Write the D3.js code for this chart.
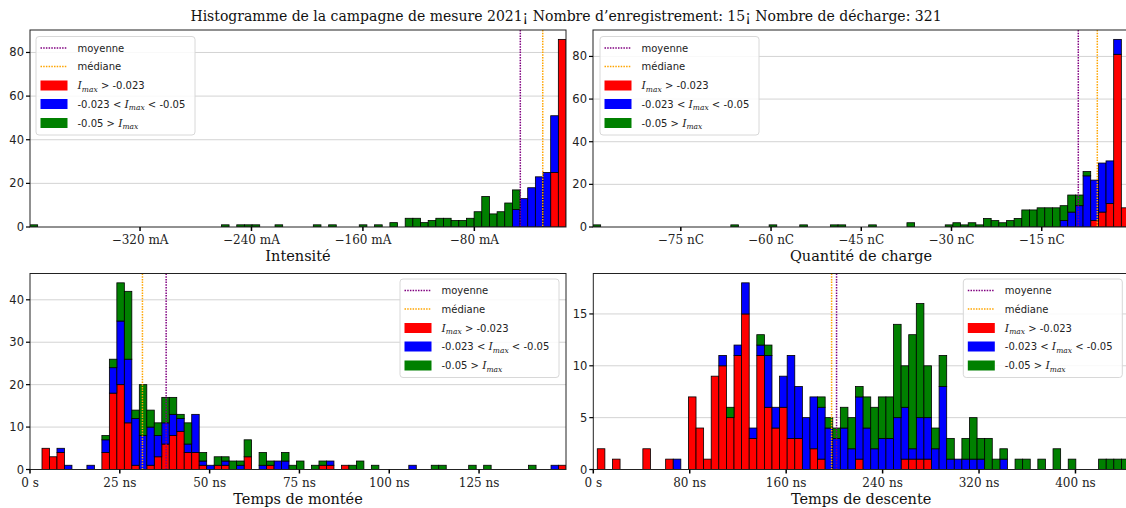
<!DOCTYPE html>
<html><head><meta charset="utf-8">
<script src="https://cdn.jsdelivr.net/npm/d3@7"></script>
<style>body{margin:0;background:#fff}</style>
</head><body><svg id="c" width="1126" height="508"></svg>
<script>
const titleText = "Histogramme de la campagne de mesure 2021¡ Nombre d’enregistrement: 15¡ Nombre de décharge: 321";
const legendLabels = ["moyenne", "médiane", "> -0.023", "-0.023 < |< -0.05", "-0.05 > |"];

// ---- Intensité (mA) ----
const intensiteDomain = [-399, -14.2];
const intensiteBins = [-399, -14.2];
const intensiteTicks = [-320, -240, -160, -80];
const intensiteMean = -47.0, intensiteMedian = -30.9;
const intensiteRed = [0,0,0,0,0,0,0,0,0,0, 0,0,0,0,0,0,0,0,0,0, 0,0,0,0,0,0,0,0,0,0, 0,0,0,0,0,0,0,0,0,0, 0,0,0,0,0,0,0,0,0,0, 0,0,0,0,0,0,0,0,0,0, 0,0,0,0,0,0,0,0,25,86];
const intensiteBlue = [0,0,0,0,0,0,0,0,0,0, 0,0,0,0,0,0,0,0,0,0, 0,0,0,0,0,0,0,0,0,0, 0,0,0,0,0,0,0,0,0,0, 0,0,0,0,0,0,0,0,0,0, 0,0,0,0,0,0,0,0,0,0, 0,0,0,8,13,18,23,25,26,0];
const intensiteGreen = [1,0,0,0,0,0,0,0,0,0, 0,0,0,0,0,0,0,0,0,0, 0,0,0,0,0,1,0,1,1,1, 0,0,1,0,0,0,0,1,0,1, 0,0,0,1,0,1,0,2,0,4, 4,2,3,4,4,3,3,4,7,14, 6,7,11,9,0,0,0,0,0,0];

// ---- Quantité de charge (nC) ----
const chargeDomain = [-89.6, -0.49];
const chargeBins = [-89.6, -0.49];
const chargeTicks = [-75, -60, -45, -30, -15];
const chargeMean = -8.92, chargeMedian = -5.76;
const chargeRed = [0,0,0,0,0,0,0,0,0,0, 0,0,0,0,0,0,0,0,0,0, 0,0,0,0,0,0,0,0,0,0, 0,0,0,0,0,0,0,0,0,0, 0,0,0,0,0,0,0,0,0,0, 0,0,0,0,0,0,0,0,0,0, 0,0,0,0,0,3,7,11,81,9];
const chargeBlue = [0,0,0,0,0,0,0,0,0,0, 0,0,0,0,0,0,0,0,0,0, 0,0,0,0,0,0,0,0,0,0, 0,0,0,0,0,0,0,0,0,0, 0,0,0,0,0,0,0,0,0,0, 0,0,0,0,0,0,0,0,0,0, 0,3,7,10,24,19,23,20,7,0];
const chargeGreen = [1,0,0,0,0,0,0,0,0,0, 0,0,0,0,0,0,0,0,1,0, 0,0,0,1,0,0,0,1,0,0, 0,1,1,0,0,0,1,0,0,0, 0,2,0,0,0,0,1,2,1,2, 1,4,3,2,3,4,8,8,9,9, 9,7,8,5,2,0,0,0,0,0];

// ---- Temps de montée (ns) ----
const monteeDomain = [0, 149.2];
const monteeBins = [3.34, 149.2];
const monteeTicks = [0, 25, 50, 75, 100, 125];
const monteeMean = 37.9, monteeMedian = 31.3;
const monteeRed = [5,3,4,0,0,0,0,0,4,18, 20,11,1,0,1,3,6,8,9,4, 4,1,0,1,1,0,0,3,0,0, 1,0,0,0,0,0,0,1,1,0, 1,0,0,0,0,0,0,0,0,0, 0,0,0,0,0,0,0,0,0,0, 0,0,0,0,0,0,0,0,0,1];
const monteeBlue = [0,0,1,1,0,0,1,0,3,6, 15,15,11,8,9,5,5,5,3,2, 9,1,1,0,1,0,1,0,0,1, 0,2,2,0,0,0,0,0,1,0, 0,0,0,0,0,0,0,0,0,1, 0,0,0,0,0,0,0,0,0,0, 0,0,0,0,0,0,0,0,1,0];
const monteeGreen = [0,0,0,0,0,0,0,0,1,2, 9,16,2,12,4,3,6,4,1,5, 0,2,0,2,1,2,1,4,0,3, 1,0,2,1,2,0,1,1,0,0, 0,1,2,0,1,0,0,0,0,0, 0,0,1,1,0,0,0,1,0,1, 0,0,0,0,0,1,0,0,0,0];

// ---- Temps de descente (ns) ----
const descenteDomain = [0, 444.4];
const descenteBins = [3.3, 444.4];
const descenteTicks = [0, 80, 160, 240, 320, 400];
const descenteMean = 201.8, descenteMedian = 197.7;
const descenteRed = [2,0,1,0,0,0,2,0,0,1, 0,0,7,4,1,9,10,5,11,15, 3,11,6,4,6,3,3,0,2,1, 0,0,0,0,1,0,0,0,0,0, 1,1,1,1,0,0,0,0,0,0, 0,0,0,0,0,0,0,0,0,0, 0,0,0,0,0,0,0,0,0,0];
const descenteBlue = [0,0,0,0,0,0,0,0,0,0, 1,0,0,0,0,0,1,0,1,3, 1,1,5,2,3,8,5,5,5,5, 4,3,4,2,6,4,2,3,3,5, 5,1,4,4,2,8,1,1,1,1, 1,0,0,1,0,0,0,0,0,0, 0,0,0,0,0,0,0,0,0,0];
const descenteGreen = [0,0,0,0,0,0,0,0,0,0, 0,0,0,0,0,0,0,1,0,0, 0,1,1,0,0,0,0,0,0,1, 1,1,2,3,1,3,4,4,4,9, 4,11,11,5,2,3,2,0,2,4, 2,3,1,1,0,1,1,0,1,0, 2,0,1,0,0,0,1,1,1,1];

const COLORS = {red:"#ff0000", blue:"#0000ff", green:"#008000", mean:"#800080", median:"#ffa500"};
const SERIF = "'DejaVu Serif', serif";
const SANS = "'DejaVu Sans', sans-serif";

const svg = d3.select("#c");
svg.append("rect").attr("width",1126).attr("height",508).attr("fill","#fff");

function fmtTick(v, unit){
  if (v === 0) return "0 s";
  return (v < 0 ? "\u2212" + Math.abs(v) : String(v)) + " " + unit;
}

const panels = [
  {box:{l:30,r:566,t:30,b:227}, dom:intensiteDomain, bins:intensiteBins, red:intensiteRed, blue:intensiteBlue, green:intensiteGreen,
   ticks:intensiteTicks, unit:"mA", yStep:20, mean:intensiteMean, median:intensiteMedian, label:"Intensité", leg:{x:36, y:36.5}},
  {box:{l:593,r:1129,t:30,b:227}, dom:chargeDomain, bins:chargeBins, red:chargeRed, blue:chargeBlue, green:chargeGreen,
   ticks:chargeTicks, unit:"nC", yStep:20, mean:chargeMean, median:chargeMedian, label:"Quantité de charge", leg:{x:600, y:36.5}},
  {box:{l:30,r:566,t:273.5,b:469.5}, dom:monteeDomain, bins:monteeBins, red:monteeRed, blue:monteeBlue, green:monteeGreen,
   ticks:monteeTicks, unit:"ns", yStep:10, mean:monteeMean, median:monteeMedian, label:"Temps de montée", leg:{x:400, y:279}},
  {box:{l:593.3,r:1129,t:273.5,b:469.5}, dom:descenteDomain, bins:descenteBins, red:descenteRed, blue:descenteBlue, green:descenteGreen,
   ticks:descenteTicks, unit:"ns", yStep:5, mean:descenteMean, median:descenteMedian, label:"Temps de descente", leg:{x:963.3, y:279}}
];

panels.forEach((p, pi) => {
  const g = svg.append("g");
  const n = p.red.length;
  const totals = d3.range(n).map(i => p.red[i] + p.blue[i] + p.green[i]);
  const ymax = d3.max(totals) * 1.05;
  const x = d3.scaleLinear().domain(p.dom).range([p.box.l, p.box.r]);
  const y = d3.scaleLinear().domain([0, ymax]).range([p.box.b, p.box.t]);
  const bw = (p.bins[1] - p.bins[0]) / n;
  const edges = d3.range(n + 1).map(i => p.bins[0] + i * bw);

  const clipId = "clip" + pi;
  svg.append("clipPath").attr("id", clipId).append("rect")
    .attr("x", p.box.l).attr("y", p.box.t).attr("width", p.box.r - p.box.l).attr("height", p.box.b - p.box.t);

  // grid
  const yTicks = d3.range(0, ymax, p.yStep);
  g.append("g").selectAll("line").data(yTicks.filter(v => v > 0)).join("line")
    .attr("x1", p.box.l).attr("x2", p.box.r).attr("y1", d => y(d)).attr("y2", d => y(d))
    .attr("stroke", "#d3d3d3").attr("stroke-width", 1);

  // stacked bars
  const keys = ["red", "blue", "green"];
  const rows = d3.range(n).map(i => ({i, red:p.red[i], blue:p.blue[i], green:p.green[i]}));
  const stacked = d3.stack().keys(keys)(rows);
  const barG = g.append("g").attr("clip-path", `url(#${clipId})`);
  stacked.forEach(layer => {
    barG.append("g").selectAll("rect").data(layer.filter(d => d[1] > d[0])).join("rect")
      .attr("x", d => x(edges[d.data.i]))
      .attr("width", d => x(edges[d.data.i + 1]) - x(edges[d.data.i]))
      .attr("y", d => y(d[1]))
      .attr("height", d => y(d[0]) - y(d[1]))
      .attr("fill", COLORS[layer.key])
      .attr("stroke", "#000").attr("stroke-width", 0.8);
  });

  // mean / median lines
  [["median", p.median], ["mean", p.mean]].forEach(([k, v]) => {
    g.append("line").attr("x1", x(v)).attr("x2", x(v)).attr("y1", p.box.t).attr("y2", p.box.b)
      .attr("stroke", COLORS[k]).attr("stroke-width", 1.5).attr("stroke-dasharray", "1.5,1.2");
  });

  // spines
  g.append("rect").attr("x", p.box.l).attr("y", p.box.t)
    .attr("width", p.box.r - p.box.l).attr("height", p.box.b - p.box.t)
    .attr("fill", "none").attr("stroke", "#222").attr("stroke-width", 1);

  // y ticks
  const yt = g.append("g");
  yTicks.forEach(v => {
    yt.append("line").attr("x1", p.box.l - 4).attr("x2", p.box.l).attr("y1", y(v)).attr("y2", y(v))
      .attr("stroke", "#000").attr("stroke-width", 1.2);
    yt.append("text").attr("x", p.box.l - 6).attr("y", y(v) + 4).attr("text-anchor", "end")
      .attr("font-family", SANS).attr("font-size", 11.5).attr("fill", "#222").text(v);
  });

  // x ticks
  const xt = g.append("g");
  p.ticks.forEach(v => {
    xt.append("line").attr("x1", x(v)).attr("x2", x(v)).attr("y1", p.box.b).attr("y2", p.box.b + 4)
      .attr("stroke", "#000").attr("stroke-width", 1.5);
    xt.append("text").attr("x", x(v)).attr("y", p.box.b + 17).attr("text-anchor", "middle")
      .attr("font-family", SERIF).attr("font-size", 12).attr("fill", "#222").text(fmtTick(v, p.unit));
  });

  // axis label
  g.append("text").attr("x", (p.box.l + Math.min(p.box.r, 1126 + (p.box.r - 1126)) ) / 2).attr("y", p.box.b + 34)
    .attr("text-anchor", "middle").attr("font-family", SERIF).attr("font-size", 14.5).attr("fill", "#111")
    .text(p.label);

  // legend
  const L = g.append("g").attr("transform", `translate(${p.leg.x},${p.leg.y})`);
  L.append("rect").attr("width", 159).attr("height", 98.5).attr("rx", 3)
    .attr("fill", "#fff").attr("fill-opacity", 0.85).attr("stroke", "#d8d8d8");
  const rowsY = [11.5, 30, 49, 67.5, 86.5];
  [["mean"], ["median"]].forEach(([k], j) => {
    L.append("line").attr("x1", 4.5).attr("x2", 31.5).attr("y1", rowsY[j]).attr("y2", rowsY[j])
      .attr("stroke", COLORS[k]).attr("stroke-width", 1.5).attr("stroke-dasharray", "1.5,1.2");
    L.append("text").attr("x", 41.5).attr("y", rowsY[j] + 3.5).attr("font-family", SANS)
      .attr("font-size", 10).attr("fill", "#222").text(legendLabels[j]);
  });
  ["red", "blue", "green"].forEach((k, j) => {
    const ry = rowsY[j + 2];
    L.append("rect").attr("x", 4.5).attr("y", ry - 5).attr("width", 27).attr("height", 10).attr("fill", COLORS[k]);
    const t = L.append("text").attr("x", 41.5).attr("y", ry + 3.5).attr("font-family", SANS)
      .attr("font-size", 10).attr("fill", "#222");
    const addImax = () => {
      t.append("tspan").attr("font-family", SERIF).attr("font-style", "italic").attr("font-size", 11).text("I");
      t.append("tspan").attr("font-family", SERIF).attr("font-style", "italic").attr("font-size", 7.5).attr("dy", 2.5).text("max");
      t.append("tspan").attr("dy", -2.5).text(" ");
    };
    if (j === 0) { addImax(); t.append("tspan").text("> -0.023"); }
    if (j === 1) { t.append("tspan").text("-0.023 < "); addImax(); t.append("tspan").text("< -0.05"); }
    if (j === 2) { t.append("tspan").text("-0.05 > "); addImax(); }
  });
});

svg.append("text").attr("x", 566).attr("y", 21).attr("text-anchor", "middle")
  .attr("font-family", SERIF).attr("font-size", 14).attr("fill", "#111").text(titleText);
</script>
</body></html>
